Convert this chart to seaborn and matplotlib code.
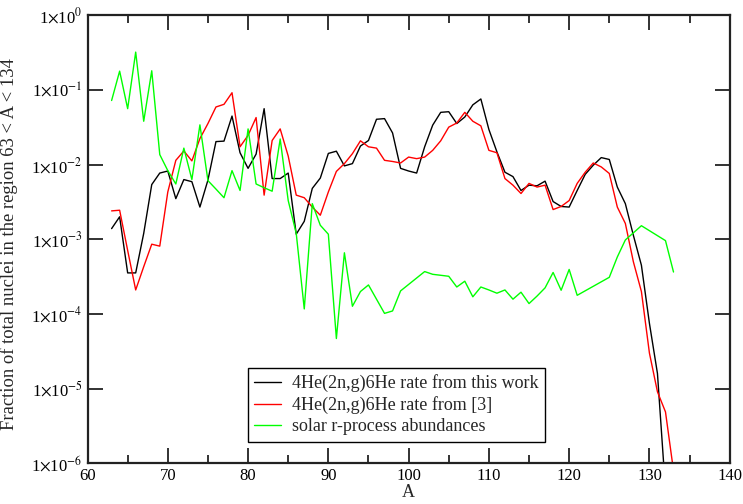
import numpy as np
import pandas as pd
import matplotlib
matplotlib.use("Agg")
import matplotlib.pyplot as plt
import seaborn as sns
from matplotlib.ticker import FixedLocator, MultipleLocator, FuncFormatter, NullLocator

# ---- data ----
A_this = list(range(63, 133))
this_work = [1.39e-3, 2.0e-3, 3.55e-4, 3.55e-4, 1.2e-3, 5.4e-3, 7.7e-3, 8.2e-3, 3.5e-3, 6.3e-3,
             5.9e-3, 2.7e-3, 6.2e-3, 0.0203, 0.0206, 0.0446, 0.0144, 8.9e-3, 0.0138, 0.056,
             6.5e-3, 6.5e-3, 7.7e-3, 1.17e-3, 1.74e-3, 4.8e-3, 6.6e-3, 0.0141, 0.0151, 9.6e-3,
             0.0103, 0.0177, 0.021, 0.0404, 0.0412, 0.0265, 8.9e-3, 8.2e-3, 7.7e-3, 0.0173,
             0.0337, 0.050, 0.051, 0.0354, 0.0433, 0.063, 0.0755, 0.0295, 0.0148, 7.9e-3,
             6.9e-3, 4.5e-3, 5.3e-3, 5.2e-3, 6.0e-3, 3.2e-3, 2.75e-3, 2.7e-3, 4.5e-3, 7.4e-3,
             9.8e-3, 0.0124, 0.0117, 5.0e-3, 3.0e-3, 1.13e-3, 4.5e-4, 7.5e-5, 1.6e-5, 4.4e-7]

A_ref = list(range(63, 134))
ref3 = [2.4e-3, 2.45e-3, 7.1e-4, 2.1e-4, 4.3e-4, 8.6e-4, 8.1e-4, 4.3e-3, 0.0114, 0.0152,
        0.0112, 0.0223, 0.0354, 0.059, 0.064, 0.0915, 0.0173, 0.0246, 0.0426, 3.9e-3,
        0.021, 0.030, 0.013, 3.9e-3, 3.6e-3, 2.7e-3, 2.1e-3, 4.3e-3, 8.1e-3, 0.0103,
        0.014, 0.0208, 0.0173, 0.0166, 0.0114, 0.011, 0.0105, 0.0126, 0.012, 0.0126,
        0.0155, 0.0208, 0.0317, 0.036, 0.050, 0.038, 0.033, 0.0155, 0.0144, 6.5e-3,
        5.3e-3, 4.1e-3, 5.6e-3, 5.0e-3, 5.3e-3, 2.5e-3, 2.75e-3, 3.3e-3, 5.6e-3, 7.9e-3,
        0.0105, 9.3e-3, 7.6e-3, 2.7e-3, 1.63e-3, 5.0e-4, 2.0e-4, 3.0e-5, 9.1e-6, 4.9e-6,
        8.0e-7]

A_solar = [63, 64, 65, 66, 67, 68, 69, 70, 71, 72, 73, 74, 75, 76, 77, 78, 79, 80, 81, 82,
           83, 84, 85, 86, 87, 88, 89, 90, 91, 92, 93, 94, 95, 96, 97, 98, 99, 102, 103, 104,
           105, 106, 107, 108, 109, 110, 111, 112, 113, 114, 115, 116, 117, 118, 119, 120, 121,
           125, 126, 127, 128, 129, 132, 133]
solar = [0.072, 0.178, 0.056, 0.32, 0.038, 0.18, 0.0136, 0.0083, 0.0055, 0.0166,
         0.0063, 0.034, 0.0061, 0.0047, 0.0036, 0.0083, 0.0045, 0.030, 0.0055, 0.0049,
         0.0044, 0.022, 0.0033, 1.2e-3, 1.17e-4, 3.0e-3, 1.54e-3, 1.17e-3, 4.7e-5, 6.6e-4,
         1.27e-4, 2.0e-4, 2.45e-4, 1.58e-4, 1.02e-4, 1.1e-4, 2.04e-4, 3.7e-4, 3.4e-4, 3.3e-4,
         3.2e-4, 2.3e-4, 2.75e-4, 1.7e-4, 2.3e-4, 2.1e-4, 1.9e-4, 2.1e-4, 1.58e-4, 1.96e-4,
         1.38e-4, 1.74e-4, 2.24e-4, 3.6e-4, 2.08e-4, 3.95e-4, 1.78e-4,
         3.1e-4, 5.8e-4, 9.8e-4, 1.22e-3, 1.52e-3, 9.6e-4, 3.65e-4]

labels = ["4He(2n,g)6He rate from this work",
          "4He(2n,g)6He rate from [3]",
          "solar r-process abundances"]
colors = ["#000000", "#ff0000", "#00ff00"]
y_ticks = [1e-6, 1e-5, 1e-4, 1e-3, 1e-2, 1e-1, 1e0]

df = pd.concat([
    pd.DataFrame({"A": A_this, "frac": this_work, "series": labels[0]}),
    pd.DataFrame({"A": A_ref, "frac": ref3, "series": labels[1]}),
    pd.DataFrame({"A": A_solar, "frac": solar, "series": labels[2]}),
], ignore_index=True)

sns.set_style("ticks")
plt.rcParams["font.family"] = ["Liberation Serif", "DejaVu Serif"]
plt.rcParams["mathtext.fontset"] = "stix"

fig = plt.figure(figsize=(7.43, 5.04), dpi=100)
ax = fig.add_axes([0.1178, 0.0804, 0.8643, 0.8896])

sns.lineplot(data=df, x="A", y="frac", hue="series", hue_order=labels,
             palette=colors, estimator=None, sort=False, linewidth=1.0, ax=ax)

ax.set_yscale("log")
ax.set_xlim(60, 140)
ax.set_ylim(1e-6, 1e0)
ax.xaxis.set_major_locator(MultipleLocator(10))
ax.xaxis.set_minor_locator(MultipleLocator(5))
ax.yaxis.set_major_locator(FixedLocator(y_ticks))
ax.yaxis.set_minor_locator(NullLocator())

def yfmt(v, pos):
    e = int(round(np.log10(v)))
    return r"1$\times$10$^{%d}$" % e

ax.yaxis.set_major_formatter(FuncFormatter(yfmt))

for s in ax.spines.values():
    s.set_linewidth(1.6)
    s.set_color("#222222")
ax.tick_params(which="both", direction="in", top=True, right=True,
               labelsize=12, width=1.3, colors="#222222", labelcolor="black")
ax.tick_params(which="major", length=11)
ax.tick_params(which="minor", length=6)

ax.set_xlabel("A", fontsize=13, labelpad=0)
ax.set_ylabel("Fraction of total nuclei in the region 63 < A < 134", fontsize=13.4)
ax.yaxis.set_label_coords(-0.108, 0.49)

leg = ax.legend(loc="lower left", bbox_to_anchor=(0.25, 0.049), borderaxespad=0,
                fontsize=13, frameon=True, fancybox=False, handlelength=1.45,
                handletextpad=0.65, borderpad=0.35, labelspacing=0.22)
leg.get_frame().set_edgecolor("black")
leg.get_frame().set_linewidth(1.0)
leg.get_frame().set_alpha(1)

fig.savefig("out.png", dpi=100)
